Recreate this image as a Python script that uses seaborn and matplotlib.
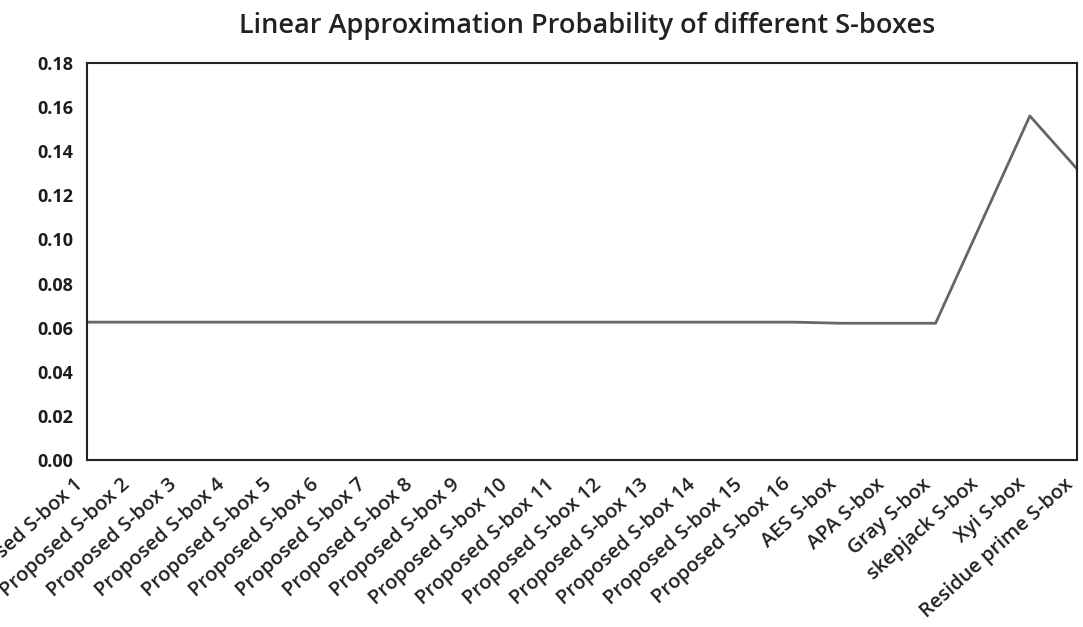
import matplotlib
matplotlib.use("Agg")
import matplotlib.pyplot as plt
import seaborn as sns
import pandas as pd

categories = [f"Proposed S-box {i}" for i in range(1, 17)] + [
    "AES S-box", "APA S-box", "Gray S-box", "skepjack S-box", "Xyi S-box", "Residue prime S-box"]
lap_values = [0.0625] * 16 + [0.062, 0.062, 0.062, 0.109, 0.156, 0.132]
y_ticks = [0.00, 0.02, 0.04, 0.06, 0.08, 0.10, 0.12, 0.14, 0.16, 0.18]

sns.set_theme(style="white")
plt.rcParams['font.family'] = ['Open Sans', 'DejaVu Sans']

df = pd.DataFrame({"S-box": categories, "LAP": lap_values})

fig = plt.figure(figsize=(10.83, 6.27), dpi=100)
ax = fig.add_axes([87/1083, 1 - 460/627, (1077-87)/1083, (460-63)/627])
sns.lineplot(data=df, x="S-box", y="LAP", sort=False, ax=ax, color="#666666", linewidth=2)

ax.set_xlim(0, len(categories) - 1)
ax.set_ylim(0, 0.18)
ax.set_yticks(y_ticks)
ax.set_yticklabels([f"{v:.2f}" for v in y_ticks], fontsize=13, fontweight="bold", color="#1c1c24")
ax.set_xticks(range(len(categories)))
ax.set_xticklabels(categories, rotation=42, ha="right", va="bottom", rotation_mode="anchor",
                   fontsize=14.5, fontweight="semibold", color="#222222")
ax.tick_params(axis="y", length=0, pad=10)
ax.tick_params(axis="x", length=0, pad=21)
ax.set_xlabel("")
ax.set_ylabel("")
for s in ax.spines.values():
    s.set_visible(True)
    s.set_color("#222222")
    s.set_linewidth(1.5)

fig.text(0.542, 0.958, "Linear Approximation Probability of different S-boxes",
         ha="center", va="center", fontsize=19.5, fontweight="semibold", color="#222222")

fig.savefig("out.png", dpi=100, facecolor="white")
